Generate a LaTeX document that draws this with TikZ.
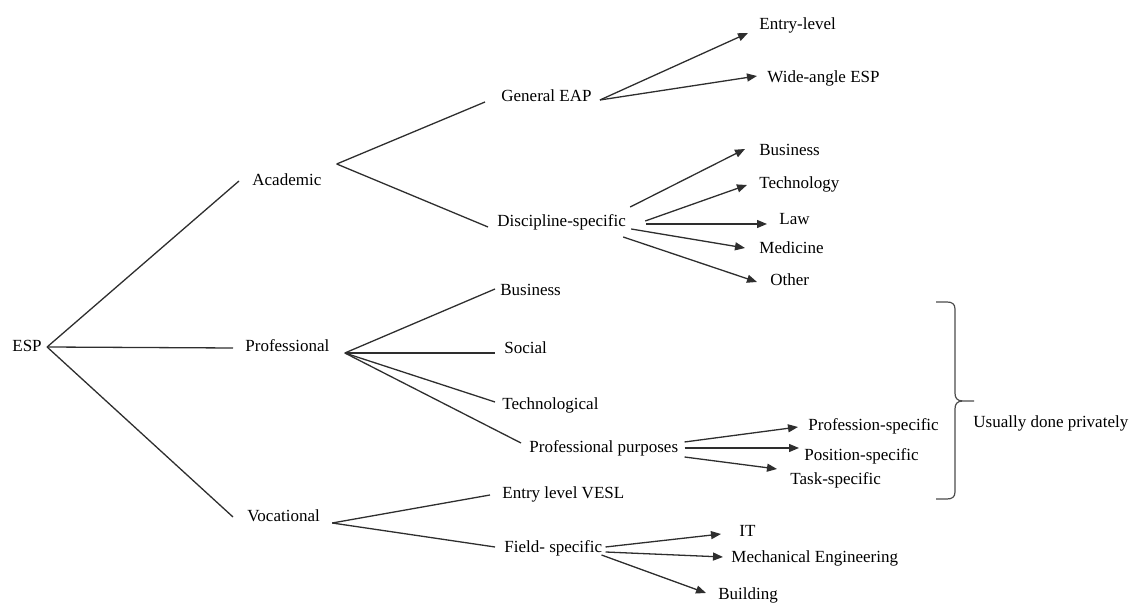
\documentclass[tikz,border=0pt]{standalone}
\usepackage{fontspec}
\setmainfont{Liberation Serif}
\usetikzlibrary{arrows.meta}
\begin{document}
\begin{tikzpicture}[x=0.5pt,y=-0.5pt,
  lbl/.style={anchor=base west, inner sep=0pt, font=\fontsize{8.5}{10}\selectfont},
  conn/.style={draw=black!82, line width=0.65pt},
  arr/.style={conn, -{Triangle[length=5pt,width=4pt]}},
  bracestyle/.style={draw=black!70, line width=0.6pt}]
\useasboundingbox (0,0) rectangle (1130,603);
% nodes
\node[lbl] (ESP) at (12,352) {ESP};
\node[lbl] (Acad) at (252,186) {Academic};
\node[lbl] (Prof) at (245,352) {Professional};
\node[lbl] (Voc) at (247,522) {Vocational};
\node[lbl] (GenEAP) at (501,102) {General EAP};
\node[lbl] (Disc) at (497,227) {Discipline-specific};
\node[lbl] (Entry) at (759,30) {Entry-level};
\node[lbl] (Wide) at (767,83) {Wide-angle ESP};
\node[lbl] (DBus) at (759,156) {Business};
\node[lbl] (DTech) at (759,189) {Technology};
\node[lbl] (DLaw) at (779,225) {Law};
\node[lbl] (DMed) at (759,254) {Medicine};
\node[lbl] (DOther) at (770,286) {Other};
\node[lbl] (PBus) at (500,296) {Business};
\node[lbl] (PSoc) at (504,354) {Social};
\node[lbl] (PTech) at (502,410) {Technological};
\node[lbl] (PPurp) at (529,453) {Professional purposes};
\node[lbl] (ProfSpec) at (808,431) {Profession-specific};
\node[lbl] (PosSpec) at (804,461) {Position-specific};
\node[lbl] (TaskSpec) at (790,485) {Task-specific};
\node[lbl] (VESL) at (502,499) {Entry level VESL};
\node[lbl] (Field) at (504,553) {Field- specific};
\node[lbl] (IT) at (739,537) {IT};
\node[lbl] (Mech) at (731,563) {Mechanical Engineering};
\node[lbl] (Build) at (718,600) {Building};
\node[lbl] (Usually) at (973,428) {Usually done privately};
% ESP
\draw[conn] ([shift={(5,-5)}]ESP.base east) -- ([shift={(-13,-5)}]Acad.base west);
\draw[conn] ([shift={(5,-5)}]ESP.base east) -- ([shift={(-12,-4)}]Prof.base west);
\draw[conn] ([shift={(5,-5)}]ESP.base east) -- ([shift={(-14,-5)}]Voc.base west);
% Academic
\draw[conn] ([shift={(15,-22)}]Acad.base east) -- ([shift={(-16,0)}]GenEAP.base west);
\draw[conn] ([shift={(15,-22)}]Acad.base east) -- ([shift={(-9,0)}]Disc.base west);
% General EAP
\draw[arr] ([shift={(8,-2)}]GenEAP.base east) -- ([shift={(-11,3)}]Entry.base west);
\draw[arr] ([shift={(8,-2)}]GenEAP.base east) -- ([shift={(-10,-7)}]Wide.base west);
% Discipline-specific
\draw[arr] ([shift={(4,-20)}]Disc.base east) -- ([shift={(-14,-7)}]DBus.base west);
\draw[arr] ([shift={(19,-6)}]Disc.base east) -- ([shift={(-12,-4)}]DTech.base west);
\draw[arr] ([shift={(20,-3)}]Disc.base east) -- ([shift={(-12,-1)}]DLaw.base west);
\draw[arr] ([shift={(5,2)}]Disc.base east) -- ([shift={(-14,-6)}]DMed.base west);
\draw[arr] ([shift={(-3,10)}]Disc.base east) -- ([shift={(-13,-4)}]DOther.base west);
% Professional
\draw[conn] ([shift={(15,1)}]Prof.base east) -- ([shift={(-5,-7)}]PBus.base west);
\draw[conn] ([shift={(15,1)}]Prof.base east) -- ([shift={(-9,-1)}]PSoc.base west);
\draw[conn] ([shift={(15,1)}]Prof.base east) -- ([shift={(-7,-8)}]PTech.base west);
\draw[conn] ([shift={(15,1)}]Prof.base east) -- ([shift={(-8,-10)}]PPurp.base west);
% Professional purposes
\draw[arr] ([shift={(6,-11)}]PPurp.base east) -- ([shift={(-10,-4)}]ProfSpec.base west);
\draw[arr] ([shift={(6,-5)}]PPurp.base east) -- ([shift={(-5,-13)}]PosSpec.base west);
\draw[arr] ([shift={(6,4)}]PPurp.base east) -- ([shift={(-13,-16)}]TaskSpec.base west);
% Vocational
\draw[conn] ([shift={(12,1)}]Voc.base east) -- ([shift={(-12,-4)}]VESL.base west);
\draw[conn] ([shift={(12,1)}]Voc.base east) -- ([shift={(-9,-6)}]Field.base west);
% Field-specific
\draw[arr] ([shift={(3,-6)}]Field.base east) -- ([shift={(-18,-3)}]IT.base west);
\draw[arr] ([shift={(3,-1)}]Field.base east) -- ([shift={(-8,-6)}]Mech.base west);
\draw[arr] ([shift={(-1,2)}]Field.base east) -- ([shift={(-12,-7)}]Build.base west);
% brace
\draw[bracestyle] (936,302) -- (947,302) .. controls (952,302) and (955,304) .. (955,309)
  -- (955,393) .. controls (955,398) and (957,401) .. (963,401) -- (974,401)
  (963,401) .. controls (957,401) and (955,404) .. (955,409)
  -- (955,492) .. controls (955,497) and (952,499) .. (947,499) -- (936,499);
\end{tikzpicture}
\end{document}
